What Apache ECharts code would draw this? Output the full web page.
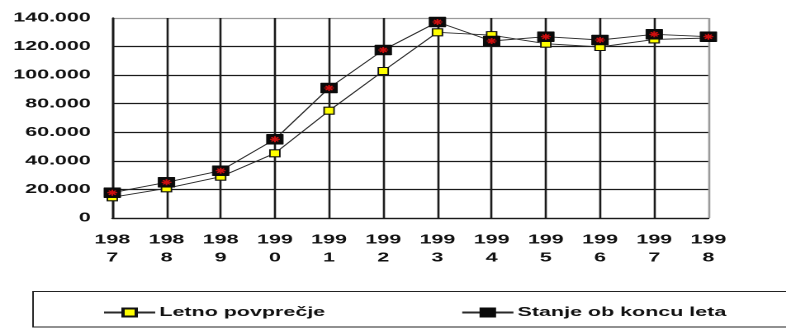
<!DOCTYPE html>
<html>
<head>
<meta charset="utf-8">
<script src="https://cdn.jsdelivr.net/npm/echarts@6/dist/echarts.min.js"></script>
<style>
  html, body { margin: 0; padding: 0; background: #fff; overflow: hidden; }
  /* the chart is laid out narrow and stretched horizontally for its wide lettering */
  #chart { width: 476px; height: 329px; transform: scaleX(1.6513); transform-origin: 0 0; }
</style>
</head>
<body>
<div id="chart"></div>
<script>
const years = ['1987', '1988', '1989', '1990', '1991', '1992', '1993', '1994', '1995', '1996', '1997', '1998'];
const letnoPovprecje = [14500, 20800, 28900, 45300, 75100, 102900, 130000, 128000, 122000, 119700, 125000, 126000];
const stanjeObKoncuLeta = [17700, 25000, 33100, 55100, 91000, 117600, 137200, 123900, 126900, 124600, 128600, 126900];
const seriesNames = ['Letno povprečje', 'Stanje ob koncu leta'];

const FONT = '"Liberation Sans", Arial, sans-serif';
const GRID_DARK = '#1a1a1a';
const GRID_EDGE = '#9a9a9a';

function thousands(v) {
  return String(v).replace(/\B(?=(\d{3})+(?!\d))/g, '.');
}

const yLineColors = [GRID_DARK, GRID_DARK, GRID_DARK, GRID_DARK, GRID_DARK, GRID_DARK, GRID_DARK, GRID_EDGE];
const xLineColors = years.map((y, i) => i === years.length - 1 ? GRID_EDGE : GRID_DARK);

const chart = echarts.init(document.getElementById('chart'), null, { renderer: 'canvas', devicePixelRatio: 2 });

chart.setOption({
  animation: false,
  backgroundColor: '#fff',
  grid: { left: 68, right: 47, top: 18, bottom: 111, containLabel: false },
  xAxis: {
    type: 'category',
    data: years,
    boundaryGap: false,
    axisLine: { show: true, lineStyle: { color: GRID_DARK, width: 1.3 } },
    axisTick: { show: false },
    splitLine: { show: true, lineStyle: { color: xLineColors, width: 1.3 } },
    axisLabel: {
      interval: 0,
      margin: 13,
      color: '#111',
      fontFamily: FONT,
      fontWeight: 'bold',
      fontSize: 13,
      lineHeight: 18,
      formatter: v => v.slice(0, 3) + '\n' + v.slice(3)
    }
  },
  yAxis: {
    type: 'value',
    min: 0,
    max: 140000,
    interval: 20000,
    axisLine: { show: true, lineStyle: { color: GRID_DARK, width: 1.3 } },
    axisTick: { show: false },
    splitLine: { show: true, lineStyle: { color: yLineColors, width: 1.3 } },
    axisLabel: {
      margin: 13,
      color: '#111',
      fontFamily: FONT,
      fontWeight: 'bold',
      fontSize: 13,
      formatter: v => thousands(v)
    }
  },
  legend: {
    data: seriesNames,
    left: 57,
    top: 301,
    itemWidth: 31,
    itemHeight: 10,
    itemGap: 82,
    textStyle: {
      color: '#111', fontFamily: FONT, fontWeight: 'bold', fontSize: 13,
      padding: [0, 0, 0, -2.5]
    }
  },
  graphic: [{
    // frame around the legend, running off the right edge
    type: 'rect',
    shape: { x: 20, y: 291.5, width: 470, height: 35.5 },
    style: { fill: 'none', stroke: '#222', lineWidth: 1 },
    z: -1
  }],
  series: [
    {
      name: seriesNames[0],
      type: 'line',
      data: letnoPovprecje,
      symbol: 'rect',
      symbolSize: [6, 7],
      showAllSymbol: true,
      lineStyle: { color: '#2a2a2a', width: 0.9 },
      itemStyle: { color: '#ffff00', borderColor: '#111', borderWidth: 1 },
      z: 3
    },
    {
      name: seriesNames[1],
      type: 'line',
      data: stanjeObKoncuLeta,
      symbol: 'rect',
      symbolSize: [10, 10],
      showAllSymbol: true,
      lineStyle: { color: '#2a2a2a', width: 0.9 },
      itemStyle: { color: '#0a0a0a', borderColor: '#0a0a0a', borderWidth: 0.5 },
      z: 4
    },
    {
      // red asterisk printed inside each end-of-year marker
      name: 'stanjeZvezdica',
      type: 'scatter',
      data: stanjeObKoncuLeta,
      symbol: 'path://M0,5L10,5M5,0L5,10M1.5,1.5L8.5,8.5M8.5,1.5L1.5,8.5',
      symbolSize: [6, 6],
      itemStyle: { color: 'none', borderColor: '#ff1010', borderWidth: 1.1 },
      silent: true,
      z: 5
    }
  ]
});
</script>
</body>
</html>
